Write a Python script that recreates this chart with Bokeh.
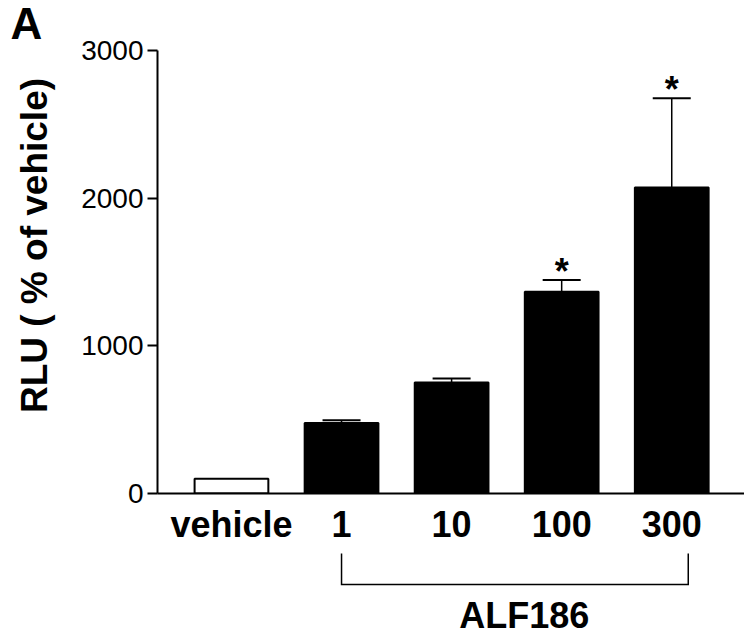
import math
from bokeh.plotting import figure
from bokeh.models import ColumnDataSource, FixedTicker, Whisker, TeeHead, Range1d
from bokeh.layouts import column, row
from bokeh.embed import file_html
from bokeh.resources import INLINE
from bokeh.core.properties import value

# ---- data ----
categories = ["vehicle", "1", "10", "100", "300"]
rlu_mean = [100, 478, 751, 1366, 2073]
rlu_sem = [0, 18, 27, 79, 604]
significance = ["", "", "", "*", "*"]
y_ticks = [0, 1000, 2000, 3000]
group_label = "ALF186"
group_members = ["1", "10", "100", "300"]
y_label = "RLU ( % of vehicle)"
panel_letter = "A"

FONT = "Liberation Sans"

xs = list(range(len(categories)))
fills = ["white"] + ["black"] * (len(categories) - 1)
upper = [m + s for m, s in zip(rlu_mean, rlu_sem)]

src = ColumnDataSource(dict(x=xs, mean=rlu_mean, sem=rlu_sem, upper=upper,
                            fill=fills, sig=significance))
err_idx = [i for i, s in enumerate(rlu_sem) if s > 0]
err_src = ColumnDataSource(dict(x=[xs[i] for i in err_idx],
                                mean=[rlu_mean[i] for i in err_idx],
                                upper=[upper[i] for i in err_idx]))

def bare(fig):
    fig.grid.grid_line_color = None
    fig.outline_line_color = None
    fig.background_fill_color = "white"
    fig.border_fill_color = "white"

# ---- main chart ----
p = figure(frame_width=587, frame_height=443,
           min_border_left=79, min_border_right=0, min_border_top=50, min_border_bottom=55,
           x_range=Range1d(-0.672, 4.661), y_range=Range1d(0, 3000),
           output_backend="svg", toolbar_location=None, title=None)
bare(p)

p.vbar(x="x", top="mean", bottom=0, width=0.67, fill_color="fill",
       line_color="black", line_width=2, source=src)

wh = Whisker(source=err_src, base="x", upper="upper", lower="mean", dimension="height",
             line_color="black", line_width=1.5,
             upper_head=TeeHead(size=38, line_width=2, line_color="black"), lower_head=None)
p.add_layout(wh)

p.text(x="x", y="upper", text="sig", source=src, text_font=value(FONT),
       text_font_style="bold", text_font_size="36px", text_align="center",
       text_baseline="alphabetic", y_offset=-9, text_color="black")

p.yaxis.ticker = FixedTicker(ticks=y_ticks)
p.yaxis.minor_tick_line_color = None
p.yaxis.axis_line_width = 2
p.yaxis.major_tick_line_width = 2
p.yaxis.major_tick_out = 10
p.yaxis.major_tick_in = 0
p.yaxis.major_label_standoff = 4
p.yaxis.major_label_text_font = FONT
p.yaxis.major_label_text_font_size = "28px"
p.yaxis.major_label_text_color = "black"
p.yaxis.axis_line_color = "black"
p.yaxis.major_tick_line_color = "black"

p.xaxis.ticker = FixedTicker(ticks=xs)
p.xaxis.major_label_overrides = {i: c for i, c in zip(xs, categories)}
p.xaxis.minor_tick_line_color = None
p.xaxis.major_tick_line_color = None
p.xaxis.major_tick_out = 0
p.xaxis.major_tick_in = 0
p.xaxis.axis_line_width = 2
p.xaxis.axis_line_color = "black"
p.xaxis.major_label_standoff = 10
p.xaxis.major_label_text_font = FONT
p.xaxis.major_label_text_font_style = "bold"
p.xaxis.major_label_text_font_size = "36px"
p.xaxis.major_label_text_color = "black"

# ---- bracket panel under the chart ----
p2 = figure(frame_width=587, frame_height=89,
            min_border_left=79, min_border_right=0, min_border_top=0, min_border_bottom=0,
            x_range=p.x_range, y_range=Range1d(0, 89),
            x_axis_location=None, y_axis_location=None,
            output_backend="svg", toolbar_location=None, title=None)
bare(p2)

member_idx = [categories.index(m) for m in group_members]
left_x = min(member_idx)
right_x = max(member_idx) + 0.15
p2.line(x=[left_x, left_x, right_x, right_x], y=[84, 53, 53, 84], line_width=1.5,
        line_color="black", line_join="miter")
p2.text(x=[2.66], y=[22], text=[group_label], text_font=value(FONT),
        text_font_style="bold", text_font_size="36px", text_align="center",
        text_baseline="alphabetic", text_color="black")

# ---- left strip: panel letter and y-axis title ----
lf = figure(frame_width=78, frame_height=637, min_border=0,
            x_range=Range1d(0, 78), y_range=Range1d(637, 0),
            x_axis_location=None, y_axis_location=None,
            output_backend="svg", toolbar_location=None, title=None)
bare(lf)
lf.text(x=[10], y=[23], text=[panel_letter], text_font=value(FONT),
        text_font_style="bold", text_font_size="44px", text_align="left",
        text_baseline="alphabetic", text_color="black")
lf.text(x=[34], y=[245], text=[y_label], angle=math.pi / 2, text_font=value(FONT),
        text_font_style="bold", text_font_size="37px", text_align="center",
        text_baseline="alphabetic", text_color="black")

layout = row(lf, column(p, p2, spacing=0), spacing=0)
open("out.html", "w").write(file_html(layout, INLINE))
